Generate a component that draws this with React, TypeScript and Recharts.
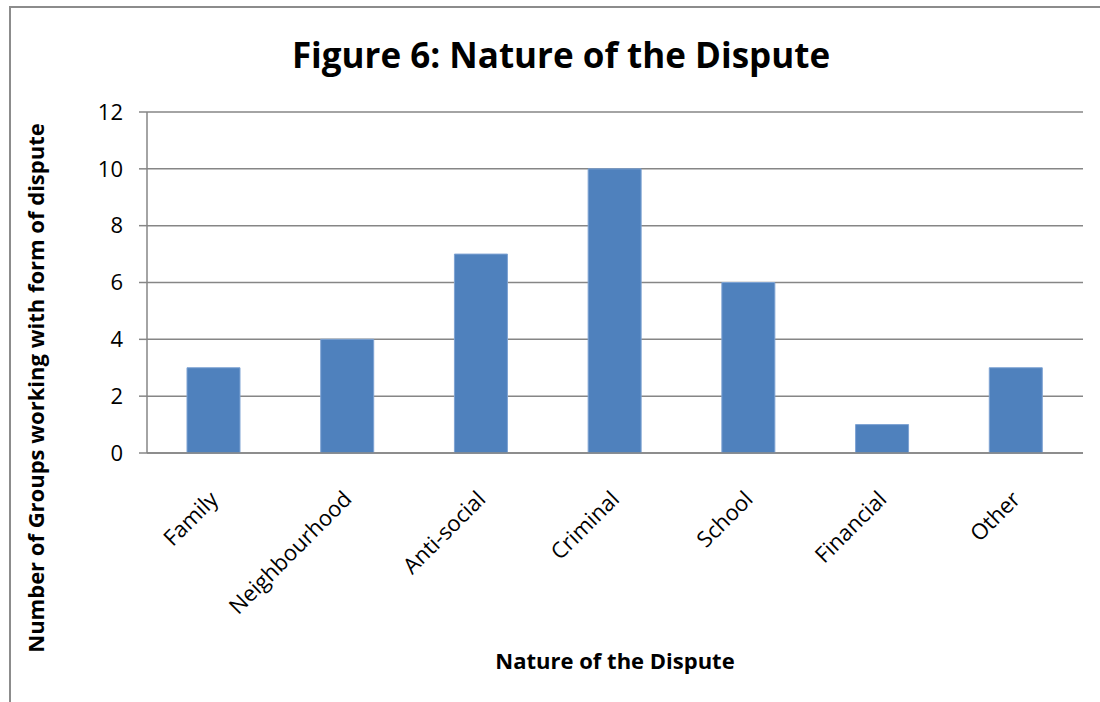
import { BarChart, Bar, XAxis, YAxis, CartesianGrid } from "recharts";

const categories = [
  "Family",
  "Neighbourhood",
  "Anti-social",
  "Criminal",
  "School",
  "Financial",
  "Other",
];
const groupCounts = [3, 4, 7, 10, 6, 1, 3];
const yTicks = [0, 2, 4, 6, 8, 10, 12];

const data = categories.map((name, i) => ({ name, value: groupCounts[i] }));

const FONT = "'Open Sans', 'Liberation Sans', sans-serif";
const GRID = "#868686";

function CategoryTick(props: any) {
  const { x, y, payload } = props;
  const tx = x - 8;
  const ty = y + 26;
  return (
    <text
      x={tx}
      y={ty}
      transform={`rotate(-45, ${tx}, ${ty})`}
      textAnchor="end"
      fontSize={22}
      fontFamily={FONT}
      fill="#000"
      dominantBaseline="hanging"
    >
      {payload.value}
    </text>
  );
}

export default function App() {
  return (
    <div
      style={{
        position: "fixed",
        left: 0,
        top: 0,
        width: 1100,
        height: 702,
        background: "#fff",
        overflow: "hidden",
        fontFamily: FONT,
      }}
    >
      <div
        style={{
          position: "absolute",
          left: 9,
          top: 6,
          width: 1200,
          height: 800,
          border: "2px solid #8c8c8c",
          pointerEvents: "none",
        }}
      />
      <div
        style={{
          position: "absolute",
          left: 0,
          top: 29,
          width: 1122,
          textAlign: "center",
          fontSize: 35,
          fontWeight: 700,
          color: "#000",
          lineHeight: "52px",
        }}
      >
        Figure 6: Nature of the Dispute
      </div>
      <div
        style={{
          position: "absolute",
          left: 35,
          top: 388,
          transform: "translate(-50%, -50%) rotate(-90deg)",
          whiteSpace: "nowrap",
          fontSize: 22,
          fontWeight: 700,
          color: "#000",
        }}
      >
        Number of Groups working with form of dispute
      </div>
      <div
        style={{
          position: "absolute",
          left: 615,
          top: 660,
          transform: "translate(-50%, -50%)",
          whiteSpace: "nowrap",
          fontSize: 22,
          fontWeight: 700,
          color: "#000",
        }}
      >
        Nature of the Dispute
      </div>
      <div style={{ position: "absolute", left: 0, top: 0 }}>
        <BarChart
          width={1100}
          height={702}
          data={data}
          margin={{ top: 112, right: 17, bottom: 149, left: 0 }}
        >
          <CartesianGrid vertical={false} stroke={GRID} strokeWidth={1.5} />
          <XAxis
            dataKey="name"
            tickLine={false}
            axisLine={{ stroke: GRID, strokeWidth: 1.5 }}
            tick={<CategoryTick />}
            interval={0}
            height={100}
          />
          <YAxis
            domain={[0, 12]}
            ticks={yTicks}
            width={147}
            tickSize={8}
            tickMargin={16}
            axisLine={{ stroke: GRID, strokeWidth: 1.5 }}
            tickLine={{ stroke: GRID, strokeWidth: 1.5 }}
            tick={{ fontSize: 22, fontFamily: FONT, fill: "#000" }}
          />
          <Bar
            dataKey="value"
            fill="#4F81BD"
            stroke="#7ea3d3"
            strokeWidth={1}
            barSize={53}
            isAnimationActive={false}
          />
        </BarChart>
      </div>
    </div>
  );
}
